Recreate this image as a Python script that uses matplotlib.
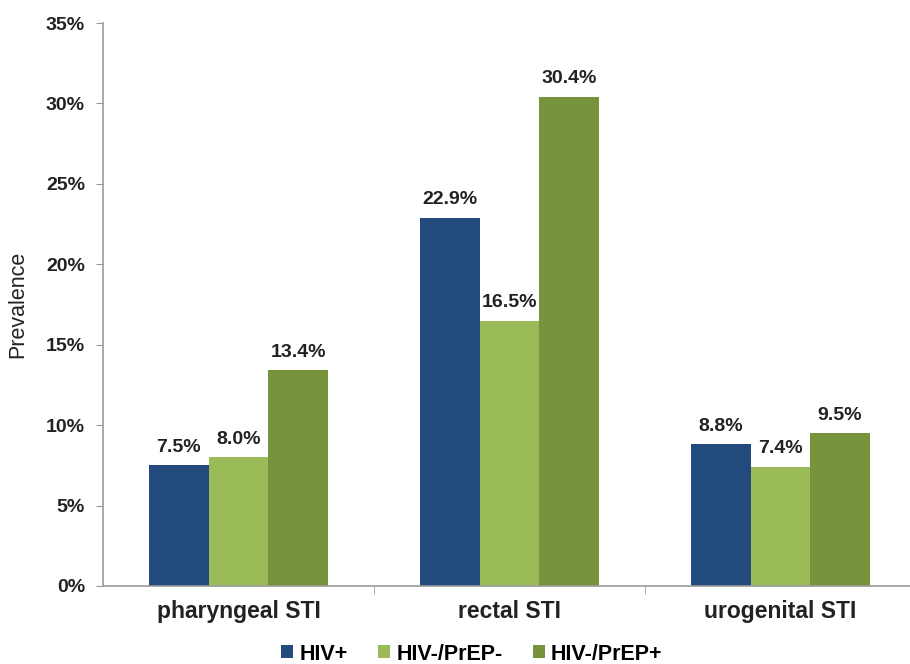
import matplotlib.pyplot as plt
import numpy as np
from matplotlib.ticker import PercentFormatter

plt.rcParams['font.family'] = ['Liberation Sans', 'DejaVu Sans']

categories = ['pharyngeal STI', 'rectal STI', 'urogenital STI']
series_names = ['HIV+', 'HIV-/PrEP-', 'HIV-/PrEP+']
hiv_pos = [7.5, 22.9, 8.8]
prep_neg = [8.0, 16.5, 7.4]
prep_pos = [13.4, 30.4, 9.5]
colors = ['#234a7c', '#9bbb59', '#77933c']

fig = plt.figure(figsize=(9.1, 6.64), dpi=100)
ax = fig.add_axes([103 / 910, 1 - 586 / 664, 813 / 910, 563 / 664])

x = np.arange(len(categories))
width = 0.22
for i, (vals, name, col) in enumerate(zip([hiv_pos, prep_neg, prep_pos], series_names, colors)):
	bars = ax.bar(x + (i - 1) * width, vals, width, color=col, label=name)
	for b, v in zip(bars, vals):
		ax.text(b.get_x() + b.get_width() / 2, v + 0.6, f'{v:.1f}%', ha='center', va='bottom',
				fontsize=14, fontweight='bold', color='#222222')

ax.set_xlim(-0.5, 2.5)
ax.set_ylim(0, 35)
ax.set_yticks(np.arange(0, 36, 5))
ax.yaxis.set_major_formatter(PercentFormatter(decimals=0))
ax.set_xticks(x)
ax.set_xticklabels(categories, fontsize=16.5, fontweight='bold', color='#222222')
ax.set_xticks([0.5, 1.5], minor=True)
ax.tick_params(axis='x', which='major', length=0, pad=10)
ax.tick_params(axis='x', which='minor', length=6, direction='out', color='#999999')
ax.tick_params(axis='y', length=5, color='#999999', labelsize=14, pad=8)
for lab in ax.get_yticklabels():
	lab.set_fontweight('bold')
	lab.set_color('#222222')
ax.set_ylabel('Prevalence', fontsize=15.5, color='#222222')
ax.yaxis.set_label_coords(-75 / 813, 0.5)

for s in ['top', 'right']:
	ax.spines[s].set_visible(False)
for s in ['left', 'bottom']:
	ax.spines[s].set_color('#999999')
	ax.spines[s].set_linewidth(1.2)

leg = fig.legend(loc='center', bbox_to_anchor=(472 / 910, 1 - 654 / 664), ncol=3, frameon=False,
				 prop={'size': 15.5, 'weight': 'bold'}, handlelength=0.55, handleheight=0.55,
				 handletextpad=0.3, columnspacing=1.4, borderpad=0.1)

fig.savefig('out.png', dpi=100)
